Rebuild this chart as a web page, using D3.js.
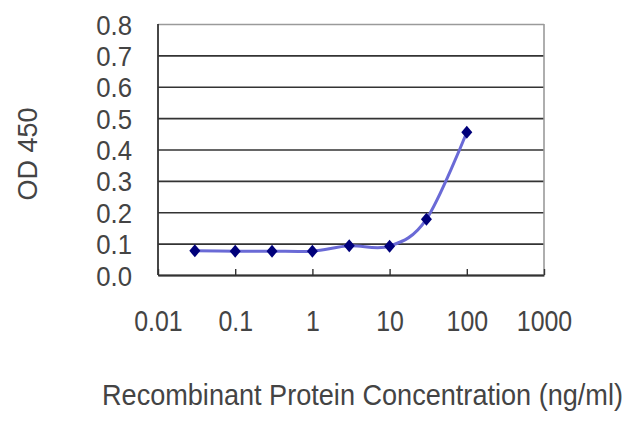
<!DOCTYPE html>
<html>
<head>
<meta charset="utf-8">
<script src="https://cdn.jsdelivr.net/npm/d3@7"></script>
<style>
  html, body { margin: 0; padding: 0; background: #fff; }
  svg { display: block; font-family: "Liberation Sans", Arial, sans-serif; }
</style>
</head>
<body>
<svg id="chart" width="640" height="427"></svg>
<script>
// Concentrations (ng/ml) and measured OD 450 values
const concentrations = [0.03, 0.1, 0.3, 1, 3, 10, 30, 100];
const odValues = [0.077, 0.076, 0.076, 0.076, 0.093, 0.092, 0.178, 0.455];

// Axis tick labels
const xTicks = [0.01, 0.1, 1, 10, 100, 1000];
const yTicks = [0, 0.1, 0.2, 0.3, 0.4, 0.5, 0.6, 0.7, 0.8];

// Plot area placement inside the 640x427 frame
const plot = { left: 158, right: 544, top: 24, bottom: 275 };
const width = plot.right - plot.left;
const height = plot.bottom - plot.top;

const svg = d3.select('#chart');
const g = svg.append('g')
    .attr('transform', `translate(${plot.left},${plot.top})`);

// Log scale for concentration, linear scale for OD
const xScale = d3.scaleLog()
    .domain([0.01, 1000])
    .range([0, width]);

const yScale = d3.scaleLinear()
    .domain([0, 0.8])
    .range([height, 0]);

// Horizontal gridlines with the y labels
const yAxis = g.append('g')
    .call(d3.axisLeft(yScale)
        .tickValues(yTicks)
        .tickSize(-width)
        .tickPadding(0)
        .tickFormat(d3.format('.1f')));

yAxis.select('.domain').remove();
yAxis.selectAll('.tick line')
    .attr('stroke', d => d === 0.8 ? '#9a9a9a' : '#333')
    .attr('stroke-width', 1.6);
yAxis.selectAll('.tick text')
    .attr('x', 0)
    .attr('dy', '0.36em')
    .attr('transform', 'translate(-26,0) scale(0.92,1)')
    .attr('font-size', '28px')
    .attr('fill', '#444');

// Right border in light grey
g.append('line')
    .attr('x1', width).attr('x2', width)
    .attr('y1', 0).attr('y2', height)
    .attr('stroke', '#9a9a9a')
    .attr('stroke-width', 1.6);

// Left border in dark grey
g.append('line')
    .attr('x1', 0).attr('x2', 0)
    .attr('y1', 0).attr('y2', height)
    .attr('stroke', '#333')
    .attr('stroke-width', 1.8);

// Bottom axis with small inward ticks
const xAxis = g.append('g')
    .attr('transform', `translate(0,${height})`)
    .call(d3.axisBottom(xScale)
        .tickValues(xTicks)
        .tickSizeInner(-6)
        .tickSizeOuter(0)
        .tickPadding(35)
        .tickFormat(d => String(d)));

xAxis.select('.domain')
    .attr('stroke', '#333')
    .attr('stroke-width', 1.8);
xAxis.selectAll('.tick line')
    .attr('stroke', '#333')
    .attr('stroke-width', 1.4);
xAxis.selectAll('.tick text')
    .attr('transform', 'scale(0.83,1)')
    .attr('font-size', '30px')
    .attr('fill', '#444');

// Data series
const points = concentrations.map((c, i) => ({ c, od: odValues[i] }));

const line = d3.line()
    .x(d => xScale(d.c))
    .y(d => yScale(d.od))
    .curve(d3.curveCardinal.tension(0));

g.append('path')
    .datum(points)
    .attr('fill', 'none')
    .attr('stroke', '#6a6ad6')
    .attr('stroke-width', 3)
    .attr('d', line);

// Diamond markers
g.selectAll('.marker')
    .data(points)
    .enter()
    .append('path')
    .attr('class', 'marker')
    .attr('transform', d => `translate(${xScale(d.c)},${yScale(d.od)})`)
    .attr('d', 'M0,-6.5L5.5,0L0,6.5L-5.5,0Z')
    .attr('fill', '#00007a');

// Axis titles
svg.append('text')
    .attr('transform', 'translate(37,154) rotate(-90)')
    .attr('text-anchor', 'middle')
    .attr('font-size', '27px')
    .attr('fill', '#444')
    .text('OD 450');

// X title squeezed horizontally to span the same width as the original
const title = svg.append('text')
    .attr('font-size', '30px')
    .attr('fill', '#444')
    .text('Recombinant Protein Concentration (ng/ml)');
const natural = title.node().getComputedTextLength();
title.attr('transform', `translate(102,405) scale(${521 / natural},1)`);
</script>
</body>
</html>
